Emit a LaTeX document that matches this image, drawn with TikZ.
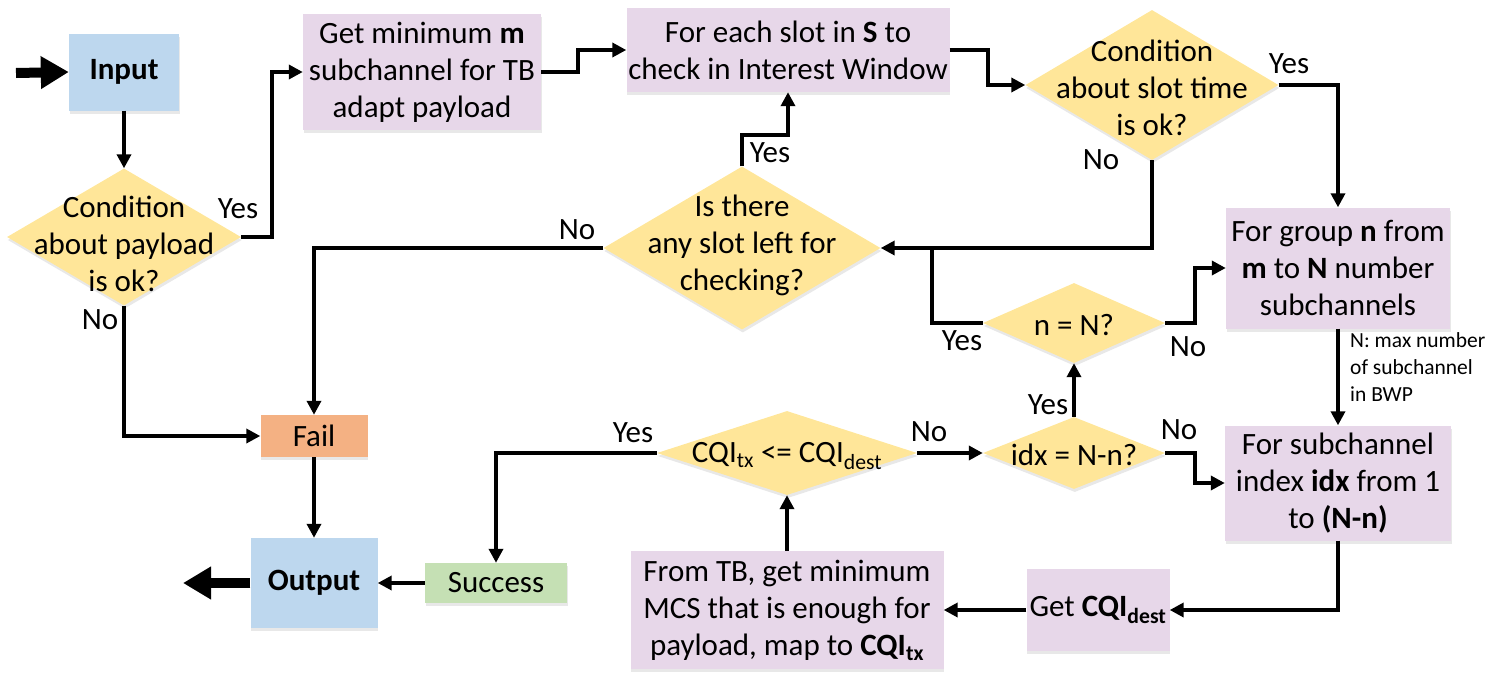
\documentclass[tikz,border=0pt]{standalone}
\usepackage{fontspec}
\setmainfont{Carlito}
\usetikzlibrary{arrows.meta,shapes.geometric,shadows}
\definecolor{cblue}{HTML}{BDD7EE}
\definecolor{cyel}{HTML}{FFE699}
\definecolor{cpur}{HTML}{E7D7E9}
\definecolor{corg}{HTML}{F4B183}
\definecolor{cgrn}{HTML}{C5E0B4}
\begin{document}
\begin{tikzpicture}[x=1pt,y=-1pt,
  base/.style={inner sep=0pt, align=center, font=\fontsize{31}{37}\selectfont,
    drop shadow={shadow xshift=0.8pt,shadow yshift=-3pt,opacity=0.18}},
  box/.style={base, rectangle},
  dia/.style={base, diamond, fill=cyel},
  txt/.style={inner sep=0pt, align=center, font=\fontsize{31}{37}\selectfont},
  lbl/.style={inner sep=0pt, font=\fontsize{31}{34}\selectfont},
  conn/.style={line width=3.5pt, line join=miter, -{Triangle[length=14pt,width=14pt]}},
  plain/.style={line width=3.5pt, line join=miter},
  big/.style={line width=10pt, -{Triangle[length=28pt,width=31pt]}}
]
\useasboundingbox (0,0) rectangle (1508,675);

% boxes
\node[box, fill=cblue, minimum width=110pt, minimum height=77pt, font=\fontsize{31}{37}\selectfont\bfseries] (in) at (124,72) {Input};
\node[box, fill=cpur, minimum width=238pt, minimum height=116pt] (gm) at (422,72) {Get minimum \textbf{m}\\subchannel for TB\\adapt payload};
\node[box, fill=cpur, minimum width=323pt, minimum height=84pt] (fe) at (788,50) {For each slot in \textbf{S} to\\check in Interest Window};
\node[box, fill=cpur, minimum width=224pt, minimum height=121pt] (fg) at (1338,268) {For group \textbf{n} from\\\textbf{m} to \textbf{N} number\\subchannels};
\node[box, fill=cpur, minimum width=226pt, minimum height=115pt] (fs) at (1338,483) {For subchannel\\index \textbf{idx} from 1\\to \textbf{(N-n)}};
\node[box, fill=cpur, minimum width=143pt, minimum height=82pt] (gc) at (1098,610) {Get \textbf{CQI\textsubscript{dest}}};
\node[box, fill=cpur, minimum width=313pt, minimum height=118pt] (tb) at (787,610) {From TB, get minimum\\MCS that is enough for\\payload, map to \textbf{CQI\textsubscript{tx}}};
\node[box, fill=cgrn, minimum width=142pt, minimum height=40pt] (su) at (496,583) {Success};
\node[box, fill=cblue, minimum width=127pt, minimum height=90pt, font=\fontsize{31}{37}\selectfont\bfseries] (out) at (314,583) {Output};
\node[box, fill=corg, minimum width=107pt, minimum height=42pt] (fail) at (314,436) {Fail};

% diamonds
\node[dia, minimum width=234pt, minimum height=137pt] (c1) at (124,237) {};
\node[txt] (c1t) at (124,244) {Condition\\about payload\\is ok?};
\node[dia, minimum width=253pt, minimum height=150pt] (c2) at (1152,85) {};
\node[txt] (c2t) at (1152,88) {Condition\\about slot time\\is ok?};
\node[dia, minimum width=277pt, minimum height=163pt] (ds) at (742,248) {};
\node[txt] (dst) at (742,245) {Is there\\any slot left for\\checking?};
\node[dia, minimum width=182pt, minimum height=80pt] (nN) at (1074,323) {};
\node[txt] (nNt) at (1074,325) {n = N?};
\node[dia, minimum width=182pt, minimum height=72pt] (idx) at (1074,453) {};
\node[txt] (idxt) at (1074,455) {idx = N-n?};
\node[dia, minimum width=260pt, minimum height=84pt] (cq) at (787,453) {};
\node[txt] (cqt) at (787,456) {CQI\textsubscript{tx} <= CQI\textsubscript{dest}};

% note
\node[inner sep=0pt, align=left, anchor=north west, font=\fontsize{21.5}{27}\selectfont] (note) at (1350,332) {N: max number\\of subchannel\\in BWP};

% connectors
\coordinate (inS) at (16,73);
\coordinate (outE) at (183,583);
\draw[big] (inS) -- (in.west);
\draw[big] (out.west) -- (outE);
\draw[conn] (in) -- (c1);
\draw[conn] (c1.east) -- (272,237) |- (gm.west);
\draw[conn] (gm.east) -- (578,72) |- (fe.west);
\draw[conn] (fe.east) -- (988,50) |- (c2.west);
\draw[conn] (c2.east) -| (fg.north);
\draw[conn] (c2.south) |- (ds.east);
\draw[plain] (nN.west) -| (932,248);
\draw[conn] (ds.north) -- (742,135) -| (fe.south);
\draw[conn] (ds.west) -| (fail.north);
\draw[conn] (c1.south) |- (fail.west);
\draw[conn] (fail) -- (out);
\draw[conn] (su) -- (out);
\draw[conn] (cq.west) -| (su.north);
\draw[conn] (cq.east) -- (idx.west);
\draw[conn] (idx.north) -- (nN.south);
\draw[conn] (nN.east) -- (1195,323) |- (fg.west);
\draw[conn] (fg.south) -- (fs.north);
\draw[conn] (idx.east) -- (1195,453) |- (fs.west);
\draw[conn] (fs.south) |- (gc.east);
\draw[conn] (gc.west) -- (tb.east);
\draw[conn] (tb.north) -- (cq.south);

% labels
\node[lbl] (l1) at (238,209) {Yes};
\node[lbl] (l2) at (100,320) {No};
\node[lbl] (l3) at (770,153) {Yes};
\node[lbl] (l4) at (577,230) {No};
\node[lbl] (l5) at (1289,64) {Yes};
\node[lbl] (l6) at (1101,160) {No};
\node[lbl] (l7) at (962,341) {Yes};
\node[lbl] (l8) at (1188,347) {No};
\node[lbl] (l9) at (1048,405) {Yes};
\node[lbl] (l10) at (1179,430) {No};
\node[lbl] (l11) at (633,433) {Yes};
\node[lbl] (l12) at (929,432) {No};
\end{tikzpicture}
\end{document}
